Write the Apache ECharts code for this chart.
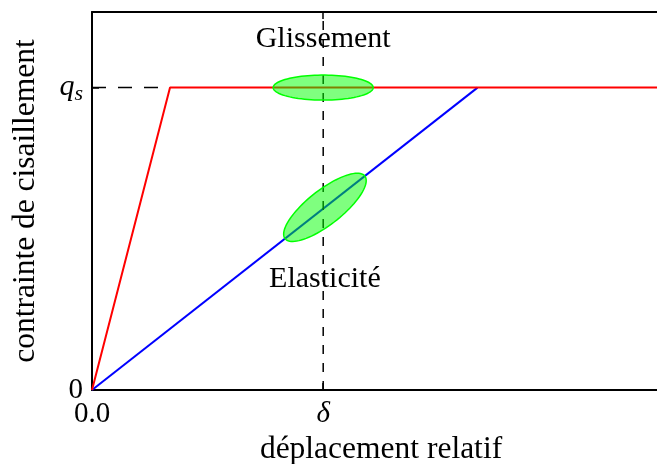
<!DOCTYPE html>
<html>
<head>
<meta charset="utf-8">
<script src="https://cdn.jsdelivr.net/npm/echarts@6/dist/echarts.min.js"></script>
<style>html,body{margin:0;padding:0;background:#fff}#c{width:657px;height:464px}</style>
</head>
<body>
<div id="c"></div>
<script>
// ---- data ----
const xMax = 10;
const yMax = 1.25;
const delta = 4;
const qs = 1;
const redLine = [[0, 0], [1.35, 1], [10, 1]];        // glissement
const blueLine = [[0, 0], [6.67, 1]];                // elasticité
const dashH = [[0, 1], [1.35, 1]];
const dashV = [[4, 0], [4, 1.25]];
const xTickValues = [0, 4];
const xTickLabels = ['0.0', 'δ'];
const yTickValues = [0, 1];
const yTickLabels = ['0', 'q_s'];
// ellipses: centre x, centre y, end of major semi-axis x, y, minor/major ratio
const ellipses = [
  [4, 1, 4.865, 1, 0.25],
  [4.03, 0.604, 4.72, 0.7075, 0.34]
];
const annotations = [
  [4, 1.16, 'Glissement'],
  [4.03, 0.365, 'Elasticité']
];

const FONT = 'Liberation Serif';
const chart = echarts.init(document.getElementById('c'), null, {renderer: 'canvas'});

function ellipseItem(params, api) {
  const c = api.coord([api.value(0), api.value(1)]);
  const e = api.coord([api.value(2), api.value(3)]);
  const r = api.value(4);
  const ux = e[0] - c[0], uy = e[1] - c[1];
  const vx = -uy * r, vy = ux * r;
  const pts = [];
  for (let i = 0; i < 90; i++) {
    const t = i / 90 * Math.PI * 2;
    pts.push([c[0] + ux * Math.cos(t) + vx * Math.sin(t), c[1] + uy * Math.cos(t) + vy * Math.sin(t)]);
  }
  return {
    type: 'polygon',
    shape: {points: pts},
    style: {fill: 'rgba(0,255,0,0.5)', stroke: '#00ff00', lineWidth: 1.5}
  };
}

function textItem(params, api) {
  const c = api.coord([api.value(0), api.value(1)]);
  return {
    type: 'text',
    x: c[0], y: c[1],
    style: {text: annotations[params.dataIndex][2], font: '30px "' + FONT + '"', fill: '#000', align: 'center', verticalAlign: 'middle'}
  };
}

const tickLabelStyle = {fontFamily: FONT, fontSize: 29, color: '#000'};

chart.setOption({
  animation: false,
  backgroundColor: '#fff',
  grid: {left: 92, top: 12, right: -13, bottom: 74, containLabel: false, outerBoundsMode: 'none'},
  xAxis: [{
    type: 'value', min: 0, max: xMax, position: 'bottom',
    name: 'déplacement relatif', nameLocation: 'middle', nameGap: 44,
    nameTextStyle: {fontFamily: FONT, fontSize: 31.5, color: '#000'},
    axisLine: {show: true, onZero: false, lineStyle: {color: '#000', width: 2}},
    axisTick: {show: true, inside: true, length: 7, customValues: xTickValues, lineStyle: {color: '#000', width: 1.5}},
    axisLabel: {show: true, customValues: xTickValues, margin: 10, ...tickLabelStyle,
      fontStyle: 'normal',
      formatter: v => { const i = xTickValues.indexOf(v); return i === 1 ? '{d|' + xTickLabels[i] + '}' : (i >= 0 ? xTickLabels[i] : ''); },
      rich: {d: {fontFamily: FONT, fontSize: 29, fontStyle: 'italic', color: '#000'}}},
    splitLine: {show: false}
  }, {
    type: 'value', min: 0, max: xMax, position: 'top',
    axisLine: {show: true, onZero: false, lineStyle: {color: '#000', width: 2}},
    axisTick: {show: true, inside: true, length: 7, customValues: xTickValues, lineStyle: {color: '#000', width: 1.5}},
    axisLabel: {show: false},
    splitLine: {show: false}
  }],
  yAxis: {
    type: 'value', min: 0, max: yMax,
    name: 'contrainte de cisaillement', nameLocation: 'middle', nameGap: 50,
    nameTextStyle: {fontFamily: FONT, fontSize: 31.5, color: '#000'},
    axisLine: {show: true, onZero: false, lineStyle: {color: '#000', width: 2}},
    axisTick: {show: true, inside: true, length: 7, customValues: yTickValues, lineStyle: {color: '#000', width: 1.5}},
    axisLabel: {show: true, customValues: yTickValues, margin: 9, ...tickLabelStyle,
      formatter: v => { const i = yTickValues.indexOf(v); if (i < 0) return ''; if (yTickLabels[i] === 'q_s') return '{q|q}{s|s}'; return yTickLabels[i]; },
      rich: {
        q: {fontFamily: FONT, fontSize: 30, fontStyle: 'italic', color: '#000'},
        s: {fontFamily: FONT, fontSize: 22, fontStyle: 'italic', color: '#000', padding: [14, 0, 0, 0]}
      }},
    splitLine: {show: false}
  },
  series: [
    {type: 'line', data: dashH, symbol: 'none', z: 1, lineStyle: {color: '#000', width: 1.5, type: [14, 12]}},
    {type: 'line', data: blueLine, symbol: 'none', z: 2, lineStyle: {color: '#0000ff', width: 2}},
    {type: 'line', data: redLine, symbol: 'none', z: 3, lineStyle: {color: '#ff0000', width: 2}},
    {type: 'line', data: dashV, symbol: 'none', z: 4, lineStyle: {color: '#000', width: 1.5, type: [9, 9]}},
    {type: 'custom', data: ellipses, renderItem: ellipseItem, z: 5, clip: false},
    {type: 'custom', data: annotations.map(a => [a[0], a[1]]), renderItem: textItem, z: 6, clip: false}
  ]
});
</script>
</body>
</html>
